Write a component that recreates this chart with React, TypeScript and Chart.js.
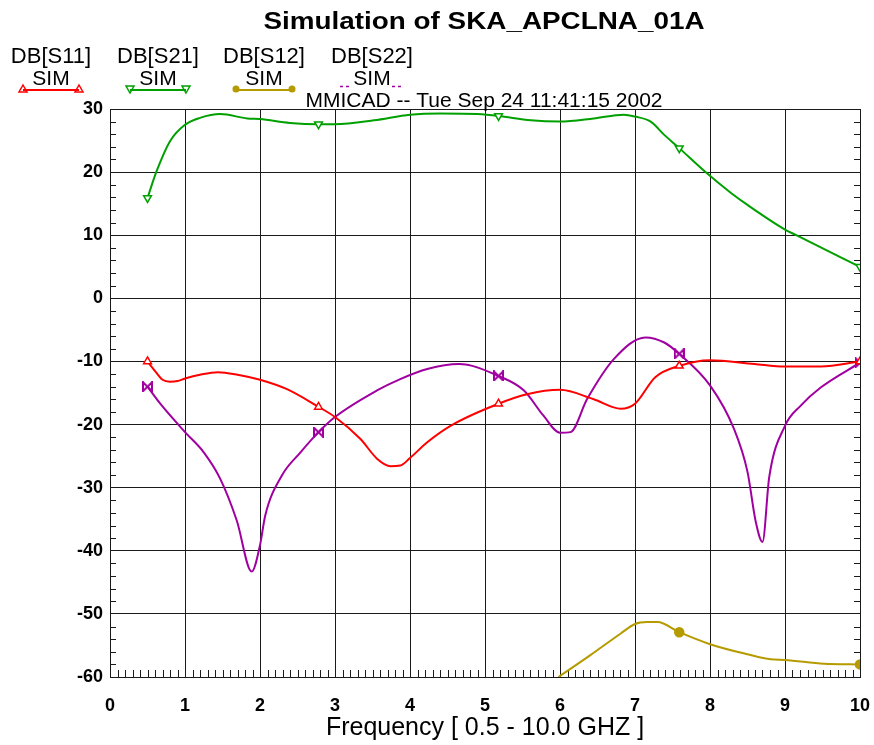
import React, { useEffect, useRef } from 'react';
import { Chart, registerables } from 'chart.js';

Chart.register(...registerables);

// ---------- data ----------
const markerFreqs = [0.5, 2.78, 5.18, 7.59, 10];

const s11Freq = [0.5, 0.62, 0.7, 0.8, 0.9, 1.0, 1.2, 1.44, 1.7, 2.0, 2.36, 2.78, 3.0, 3.34, 3.56, 3.74, 3.87, 4.0, 4.23, 4.54, 5.18, 5.56, 6.0, 6.45, 6.81, 7.0, 7.27, 7.59, 8.0, 8.59, 9.0, 9.48, 10];
const s11Db = [-10.0, -11.8, -12.9, -13.2, -13.1, -12.7, -12.1, -11.7, -12.1, -12.9, -14.4, -17.2, -18.8, -22.3, -25.4, -26.6, -26.5, -25.3, -22.8, -20.2, -16.7, -15.2, -14.5, -16.0, -17.5, -16.7, -12.5, -10.7, -9.8, -10.4, -10.8, -10.8, -10.0];

const s21Freq = [0.5, 0.62, 0.8, 1.0, 1.2, 1.47, 1.83, 2.0, 2.4, 2.78, 3.0, 3.52, 4.0, 4.41, 4.9, 5.18, 5.61, 6.0, 6.45, 6.85, 7.0, 7.21, 7.39, 7.59, 7.94, 8.28, 8.5, 9.0, 9.15, 10];
const s21Db = [15.9, 20.1, 24.9, 27.5, 28.6, 29.2, 28.5, 28.4, 27.8, 27.6, 27.6, 28.2, 29.1, 29.3, 29.2, 28.9, 28.2, 28.0, 28.5, 29.1, 28.8, 28.0, 25.9, 23.8, 20.0, 16.7, 14.8, 10.9, 10.0, 5.0];

const s12Freq = [5.98, 6.41, 6.81, 7.0, 7.16, 7.3, 7.59, 8.0, 8.5, 8.81, 9.0, 9.52, 10];
const s12Db = [-60.0, -56.5, -53.1, -51.6, -51.3, -51.3, -52.9, -54.8, -56.4, -57.2, -57.3, -57.9, -58.0];

const s22Freq = [0.5, 0.67, 1.0, 1.25, 1.47, 1.69, 1.89, 2.0, 2.07, 2.29, 2.54, 2.78, 3.0, 3.56, 3.87, 4.23, 4.65, 5.18, 5.52, 5.78, 6.0, 6.14, 6.36, 6.72, 7.14, 7.39, 7.59, 8.0, 8.32, 8.5, 8.61, 8.7, 8.79, 9.0, 9.21, 9.48, 10];
const s22Db = [-14.0, -16.7, -21.2, -24.4, -28.6, -35.2, -43.3, -39.1, -34.4, -28.1, -24.4, -21.2, -18.8, -14.6, -12.8, -11.2, -10.4, -12.3, -14.6, -18.6, -21.3, -21.2, -16.0, -9.6, -6.2, -7.0, -8.8, -13.8, -20.7, -27.5, -35.4, -38.6, -28.3, -20.2, -17.0, -14.1, -10.2];

const xMin = 0;
const xMax = 10;
const xStep = 1;
const yMin = -60;
const yMax = 30;
const yStep = 10;

const titleText = 'Simulation of SKA_APCLNA_01A';
const subtitleText = 'MMICAD -- Tue Sep 24 11:41:15 2002';
const legendNames = ['DB[S11]', 'DB[S21]', 'DB[S12]', 'DB[S22]'];
const legendSub = 'SIM';
const xAxisTitle = 'Frequency [ 0.5 - 10.0 GHZ ]';

// ---------- styles ----------
const FONT = '"Liberation Sans", Arial, Helvetica, sans-serif';
const RED = '#ff0000';
const GREEN = '#00a000';
const OLIVE = '#b59b00';
const PURPLE = '#a000a0';
const GRID = '#1a1a1a';

function makeBowtie(color: string): HTMLCanvasElement {
  const c = document.createElement('canvas');
  c.width = 11;
  c.height = 11;
  const g = c.getContext('2d')!;
  g.strokeStyle = color;
  g.fillStyle = color;
  g.lineWidth = 2;
  g.beginPath();
  g.moveTo(1, 1);
  g.lineTo(1, 10);
  g.lineTo(5.5, 5.5);
  g.closePath();
  g.moveTo(10, 1);
  g.lineTo(10, 10);
  g.lineTo(5.5, 5.5);
  g.closePath();
  g.stroke();
  return c;
}

function drawMarker(ctx: CanvasRenderingContext2D, kind: string, x: number, y: number, color: string) {
  ctx.save();
  ctx.strokeStyle = color;
  ctx.fillStyle = color;
  ctx.lineWidth = 1.5;
  ctx.beginPath();
  if (kind === 'up') {
    ctx.moveTo(x, y - 4);
    ctx.lineTo(x + 4, y + 3);
    ctx.lineTo(x - 4, y + 3);
    ctx.closePath();
    ctx.stroke();
  } else if (kind === 'down') {
    ctx.moveTo(x, y + 4);
    ctx.lineTo(x + 4, y - 3);
    ctx.lineTo(x - 4, y - 3);
    ctx.closePath();
    ctx.stroke();
  } else if (kind === 'circle') {
    ctx.arc(x, y, 3.5, 0, Math.PI * 2);
    ctx.fill();
  }
  ctx.restore();
}

const decorPlugin = {
  id: 'decor',
  beforeDatasetsDraw(chart: any) {
    const { ctx, chartArea, scales } = chart;
    const xs = scales.x;
    const ys = scales.y;
    ctx.save();
    ctx.strokeStyle = GRID;
    ctx.lineWidth = 1;
    ctx.beginPath();
    for (let i = 1; i < 100; i++) {
      if (i % 10 === 0) continue;
      const px = Math.round(xs.getPixelForValue(i / 10)) + 0.5;
      ctx.moveTo(px, chartArea.bottom);
      ctx.lineTo(px, chartArea.bottom - 7);
    }
    for (let v = yMin + 2; v < yMax; v += 2) {
      if (v % 10 === 0) continue;
      const py = Math.round(ys.getPixelForValue(v)) + 0.5;
      ctx.moveTo(chartArea.left, py);
      ctx.lineTo(chartArea.left + 6, py);
      ctx.moveTo(chartArea.right, py);
      ctx.lineTo(chartArea.right - 6, py);
    }
    ctx.stroke();
    ctx.strokeRect(
      Math.round(chartArea.left) + 0.5,
      Math.round(chartArea.top) + 0.5,
      Math.round(chartArea.right - chartArea.left),
      Math.round(chartArea.bottom - chartArea.top)
    );
    ctx.restore();
  },
  afterDraw(chart: any) {
    const { ctx } = chart;
    ctx.save();
    ctx.fillStyle = '#000';
    ctx.textAlign = 'center';
    ctx.textBaseline = 'alphabetic';

    // title
    ctx.font = `bold 23px ${FONT}`;
    let w = ctx.measureText(titleText).width;
    ctx.save();
    ctx.translate(484, 29);
    ctx.scale(441 / w, 1);
    ctx.fillText(titleText, 0, 0);
    ctx.restore();

    // subtitle
    ctx.font = `20px ${FONT}`;
    w = ctx.measureText(subtitleText).width;
    ctx.save();
    ctx.translate(484, 107);
    ctx.scale(357 / w, 1);
    ctx.fillText(subtitleText, 0, 0);
    ctx.restore();

    // legend
    const centers = [51, 158, 264, 372];
    const colors = [RED, GREEN, OLIVE, PURPLE];
    const kinds = ['up', 'down', 'circle', 'bowtie'];
    legendNames.forEach((name, i) => {
      const cx = centers[i];
      ctx.fillStyle = '#000';
      ctx.font = `22px ${FONT}`;
      ctx.fillText(name, cx, 63);
      ctx.font = `21px ${FONT}`;
      ctx.fillText(legendSub, cx, 85);
      const col = colors[i];
      if (kinds[i] !== 'bowtie') {
        ctx.save();
        ctx.strokeStyle = col;
        ctx.lineWidth = 2;
        ctx.beginPath();
        ctx.moveTo(cx - 28, 90);
        ctx.lineTo(cx + 28, 90);
        ctx.stroke();
        ctx.restore();
        drawMarker(ctx, kinds[i], cx - 28, 89, col);
        drawMarker(ctx, kinds[i], cx + 28, 89, col);
      } else {
        ctx.save();
        ctx.strokeStyle = col;
        ctx.lineWidth = 1.5;
        ctx.setLineDash([3, 3]);
        ctx.beginPath();
        ctx.moveTo(cx - 32, 86.5);
        ctx.lineTo(cx - 22, 86.5);
        ctx.moveTo(cx + 20, 86.5);
        ctx.lineTo(cx + 30, 86.5);
        ctx.stroke();
        ctx.restore();
      }
    });
    ctx.restore();
  },
};

export default function App() {
  const ref = useRef<HTMLCanvasElement | null>(null);

  useEffect(() => {
    if (!ref.current) return;
    const bowtie = makeBowtie(PURPLE);
    const isMarker = (c: any) => (c.raw && markerFreqs.includes(c.raw.x) ? 4.5 : 0);
    const mk = (label: string, xs: number[], ys: number[], color: string, style: any, rot: number, fill: string) => ({
      label,
      data: xs.map((x, i) => ({ x, y: ys[i] })),
      borderColor: color,
      backgroundColor: color,
      borderWidth: 2,
      cubicInterpolationMode: 'monotone' as const,
      pointStyle: style,
      rotation: rot,
      pointRadius: isMarker,
      pointHoverRadius: 0,
      pointBackgroundColor: fill,
      pointBorderColor: color,
      pointBorderWidth: 1.5,
    });

    const chart = new Chart(ref.current, {
      type: 'line',
      data: {
        datasets: [
          mk('DB[S11] SIM', s11Freq, s11Db, RED, 'triangle', 0, '#ffffff'),
          mk('DB[S21] SIM', s21Freq, s21Db, GREEN, 'triangle', 180, '#ffffff'),
          mk('DB[S12] SIM', s12Freq, s12Db, OLIVE, 'circle', 0, OLIVE),
          mk('DB[S22] SIM', s22Freq, s22Db, PURPLE, bowtie, 0, PURPLE),
        ],
      },
      options: {
        animation: false,
        responsive: false,
        devicePixelRatio: 1,
        events: [],
        layout: { padding: { top: 109, right: 14, left: 0, bottom: 0 } },
        plugins: {
          legend: { display: false },
          title: { display: false },
          tooltip: { enabled: false },
        },
        scales: {
          x: {
            type: 'linear',
            min: xMin,
            max: xMax,
            ticks: {
              stepSize: xStep,
              color: '#000',
              font: { size: 18, family: FONT, weight: 'bold' },
              padding: 18,
              maxRotation: 0,
              autoSkip: false,
            },
            grid: { color: GRID, lineWidth: 1, drawTicks: false },
            border: { color: GRID, width: 1 },
            title: {
              display: true,
              text: xAxisTitle,
              color: '#000',
              font: { size: 25, family: FONT },
              padding: { top: 0, bottom: 2 },
            },
            afterFit: (s: any) => {
              s.height = 68;
              s.paddingLeft = 0;
              s.paddingRight = 0;
            },
          },
          y: {
            type: 'linear',
            min: yMin,
            max: yMax,
            ticks: {
              stepSize: yStep,
              color: '#000',
              font: { size: 18, family: FONT, weight: 'bold' },
              padding: 7,
            },
            grid: { color: GRID, lineWidth: 1, drawTicks: false },
            border: { color: GRID, width: 1 },
            afterFit: (s: any) => {
              s.width = 110;
              s.paddingTop = 0;
              s.paddingBottom = 0;
            },
          },
        },
      },
      plugins: [decorPlugin],
    } as any);
    return () => chart.destroy();
  }, []);

  return (
    <div style={{ position: 'absolute', left: 0, top: 0, width: 874, height: 745, background: '#fff' }}>
      <canvas ref={ref} width={874} height={745} style={{ display: 'block' }} />
    </div>
  );
}
